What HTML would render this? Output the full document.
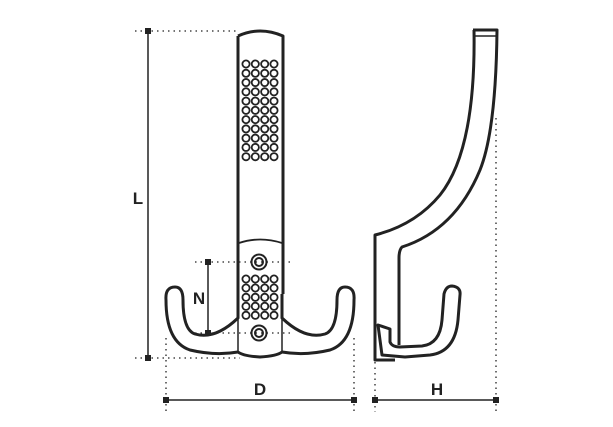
<!DOCTYPE html>
<html><head><style>html,body{margin:0;padding:0;background:#fff}svg{display:block}</style></head>
<body>
<svg width="613" height="427" viewBox="0 0 613 427" xmlns="http://www.w3.org/2000/svg" font-family="Liberation Sans, sans-serif">
<g stroke="#222" stroke-width="1.3" stroke-dasharray="1.5 4" fill="none">
<line x1="135" y1="31" x2="238" y2="31"/>
<line x1="135" y1="358" x2="240" y2="358"/>
<line x1="195" y1="262" x2="290" y2="262"/>
<line x1="195" y1="333" x2="290" y2="333"/>
<line x1="166" y1="338" x2="166" y2="412"/>
<line x1="354" y1="338" x2="354" y2="412"/>
<line x1="375" y1="362" x2="375" y2="412"/>
<line x1="496" y1="118" x2="496" y2="412"/>
</g>
<g stroke="#222" stroke-width="1.5">
<line x1="148" y1="31" x2="148" y2="358"/>
<line x1="208" y1="262" x2="208" y2="333"/>
<line x1="166" y1="400" x2="354" y2="400"/>
<line x1="375" y1="400" x2="496" y2="400"/>
</g>
<g fill="#222">
<rect x="145" y="28" width="6" height="6"/><rect x="145" y="355" width="6" height="6"/>
<rect x="205" y="259" width="6" height="6"/><rect x="205" y="330" width="6" height="6"/>
<rect x="163" y="397" width="6" height="6"/><rect x="351" y="397" width="6" height="6"/>
<rect x="372" y="397" width="6" height="6"/><rect x="493" y="397" width="6" height="6"/>
</g>
<g font-size="17" font-weight="bold" fill="#222" text-anchor="middle">
<text x="138" y="204">L</text><text x="199" y="304">N</text>
<text x="260" y="395">D</text><text x="437" y="395">H</text>
</g>
<g stroke="#222" stroke-width="3" fill="none" stroke-linejoin="round">
<path d="M238,36 Q260,26 283,36 L283,294"/>
<path d="M238,36 L238,294"/>
<path d="M239,243 Q260,236 282,243" stroke-width="1.8"/>
<!-- left hook -->
<path d="M238,294 L238,318 Q215,340 195,334 Q183,330 183,300 Q183,287 175,287 Q165,287 166,300 Q166,342 190,350 Q215,356 238,352 Q243,356 260,357 Q277,356 282,352 Q305,356 330,350 Q354,342 354,300 Q355,287 345,287 Q337,287 337,300 Q337,330 325,334 Q305,340 282,318 L282,294"/>
<path d="M238,318 L238,352 M282,318 L282,352" stroke-width="1.5"/>
<!-- side view -->
<path d="M473,30 L497,30 Q496,130 480,170 Q455,230 402,247 Q399,250 399,258 L399,345"/>
<path d="M474,30 Q476,150 440,195 Q415,225 375,235 L375,360 L395,360"/>
<path d="M475,36 L496,36" stroke-width="1.5"/>
<path d="M378,325 L390,329 L390,342 Q392,347 400,347 L422,346 Q440,344 442,320 L444,294 Q446,286 452,286 Q461,287 460,295 L458,320 Q455,352 430,355 L405,357 L382,355 Z"/>
</g>
<g stroke="#222" stroke-width="2" fill="none">
<circle cx="259" cy="262" r="7.5"/><circle cx="259" cy="262" r="4"/>
<circle cx="259" cy="333" r="7.5"/><circle cx="259" cy="333" r="4"/>
</g>
<g stroke="#222" stroke-width="1.8" fill="none" id="dots">
<!-- upper grid -->
<g id="row">
<circle cx="246" cy="64" r="3.6"/><circle cx="255.3" cy="64" r="3.6"/><circle cx="264.7" cy="64" r="3.6"/><circle cx="274" cy="64" r="3.6"/>
</g>
<use href="#row" y="9.27"/><use href="#row" y="18.54"/><use href="#row" y="27.81"/><use href="#row" y="37.08"/>
<use href="#row" y="46.35"/><use href="#row" y="55.62"/><use href="#row" y="64.89"/><use href="#row" y="74.16"/>
<use href="#row" y="83.43"/><use href="#row" y="92.7"/>
<use href="#row" y="215"/><use href="#row" y="224"/><use href="#row" y="233.3"/><use href="#row" y="242.3"/><use href="#row" y="251.3"/>
</g>
</svg>
</body></html>
